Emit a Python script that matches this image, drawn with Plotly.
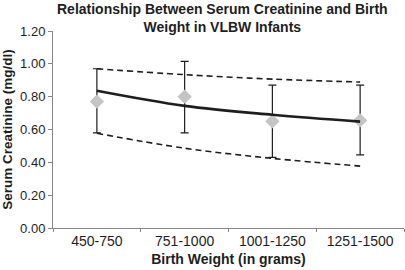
import plotly.graph_objects as go

categories = ["450-750", "751-1000", "1001-1250", "1251-1500"]
means = [0.77, 0.80, 0.65, 0.655]
err_plus = [0.20, 0.215, 0.22, 0.215]
err_minus = [0.19, 0.22, 0.22, 0.21]
fit_line = [0.836, 0.744, 0.69, 0.648]
upper_band = [0.97, 0.934, 0.907, 0.889]
lower_band = [0.577, 0.486, 0.424, 0.377]
y_ticks = [0.0, 0.2, 0.4, 0.6, 0.8, 1.0, 1.2]

FONT = "Liberation Sans, Arial, sans-serif"
INK = "#1e1e1e"
W, H = 405, 270
ML, MR, MT, MB = 53, 1, 31, 42
PW, PH = W - ML - MR, H - MT - MB

fig = go.Figure()
for band in (upper_band, lower_band):
    fig.add_trace(go.Scatter(x=categories, y=band, mode="lines",
                             line=dict(color=INK, width=1.6, dash="6px,4px", shape="spline"),
                             showlegend=False))
fig.add_trace(go.Scatter(x=categories, y=means, mode="markers",
                         marker=dict(symbol="diamond", size=11, color="#c4c4c4"),
                         error_y=dict(type="data", array=err_plus, arrayminus=err_minus,
                                      color=INK, thickness=1.2, width=4),
                         showlegend=False))
fig.add_trace(go.Scatter(x=categories, y=fit_line, mode="lines",
                         line=dict(color=INK, width=2.6, shape="spline"),
                         showlegend=False))

fig.update_layout(
    width=W, height=H,
    margin=dict(l=ML, r=MR, t=MT, b=MB),
    paper_bgcolor="white", plot_bgcolor="white",
    font=dict(family=FONT, size=13, color=INK),
    xaxis=dict(showline=True, linecolor="#888888", linewidth=1,
               ticks="outside", tickson="boundaries", ticklen=3, tickcolor="#888888",
               showgrid=False, zeroline=False,
               tickfont=dict(size=14), range=[-0.5, 3.5],
               title=dict(text="<b>Birth Weight (in grams)</b>", standoff=6,
                          font=dict(size=14))),
    yaxis=dict(showline=True, linecolor="#888888", linewidth=1,
               ticks="outside", ticklen=4, tickcolor="#888888",
               tickvals=y_ticks, tickformat=".2f", range=[0, 1.2],
               showgrid=False, zeroline=False, tickfont=dict(size=13),
               title=dict(text="<b>Serum Creatinine (mg/dl)</b>", standoff=4,
                          font=dict(size=13.5))),
    annotations=[dict(
        text="<b>Relationship Between Serum Creatinine and Birth<br>Weight in VLBW Infants</b>",
        xref="paper", yref="paper",
        x=(222 - ML) / PW, xanchor="center",
        y=(H - MB + 1) / PH, yanchor="top",
        showarrow=False, align="center",
        font=dict(family=FONT, size=14, color=INK))],
)

fig.write_html("out.html", config={"displayModeBar": False},
               post_script="document.body.style.margin='0';")
